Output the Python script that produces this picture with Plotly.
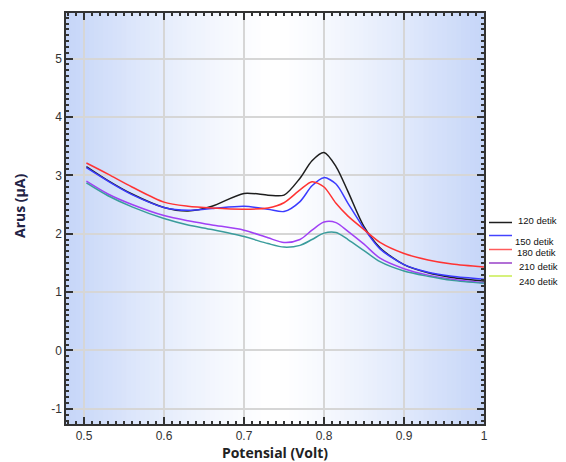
import plotly.graph_objects as go

potential = [0.503, 0.53, 0.56, 0.60, 0.63, 0.66, 0.70, 0.73, 0.75, 0.77,
             0.785, 0.80, 0.815, 0.83, 0.85, 0.87, 0.90, 0.93, 0.96, 1.0]

arus_120 = [3.15, 2.91, 2.68, 2.45, 2.39, 2.47, 2.69, 2.66, 2.66, 2.95,
            3.25, 3.39, 3.15, 2.72, 2.12, 1.76, 1.47, 1.33, 1.25, 1.19]
arus_150 = [3.13, 2.90, 2.67, 2.45, 2.40, 2.43, 2.47, 2.42, 2.38, 2.55,
            2.82, 2.96, 2.85, 2.52, 2.09, 1.74, 1.47, 1.34, 1.27, 1.22]
arus_180 = [3.21, 3.02, 2.80, 2.54, 2.47, 2.44, 2.42, 2.44, 2.53, 2.75,
            2.89, 2.80, 2.52, 2.30, 2.07, 1.85, 1.66, 1.55, 1.48, 1.43]
arus_210 = [2.90, 2.68, 2.50, 2.31, 2.22, 2.15, 2.06, 1.93, 1.85, 1.90,
            2.06, 2.20, 2.19, 2.04, 1.82, 1.58, 1.40, 1.29, 1.22, 1.16]
arus_240 = [2.87, 2.65, 2.46, 2.26, 2.15, 2.07, 1.95, 1.83, 1.77, 1.80,
            1.90, 2.01, 2.02, 1.90, 1.71, 1.52, 1.36, 1.27, 1.20, 1.15]

labels = ["120 detik", "150 detik", "180 detik", "210 detik", "240 detik"]
line_colors = ["#1e1e1e", "#3b3bff", "#ff3333", "#a040f5", "#3a9c9c"]
legend_colors = ["#1e1e1e", "#4444ff", "#ff5c5c", "#9940c8", "#c8ec50"]
x_ticks = [0.5, 0.6, 0.7, 0.8, 0.9, 1.0]
x_ticktext = ["0.5", "0.6", "0.7", "0.8", "0.9", "1"]
y_ticks = [-1, 0, 1, 2, 3, 4, 5]
y_ticktext = ["-1", "0", "1", "2", "3", "4", "5"]
x_title = "<b>Potensial (Volt)</b>"
y_title = "<b>Arus (µA)</b>"

X_MIN, X_MAX = 0.4775, 1.0
Y_MIN, Y_MAX = -1.26, 5.78

# figure geometry (page is offset by the 8px body margin)
W, H = 558, 454
ML, MR, MT, MB = 58, 82, 5, 38
PW, PH = W - ML - MR, H - MT - MB

fig = go.Figure()
for vals, col, lab in zip([arus_120, arus_150, arus_180, arus_210, arus_240], line_colors, labels):
    fig.add_trace(go.Scatter(x=potential, y=vals, mode="lines", name=lab, showlegend=False,
                             line=dict(color=col, width=1.5, shape="spline", smoothing=0.8)))

# gradient background via vertical stripes
n = 90
c = (X_MIN + X_MAX) / 2
h = (X_MAX - X_MIN) / 2
edge = (197, 213, 248)
shapes = []
for i in range(n):
    x0 = X_MIN + (X_MAX - X_MIN) * i / n
    x1 = X_MIN + (X_MAX - X_MIN) * (i + 1) / n
    t = abs((x0 + x1) / 2 - c) / h
    f = min(1.0, t ** 1.3)
    col = tuple(round(255 - (255 - e) * f) for e in edge)
    shapes.append(dict(type="rect", xref="x", yref="paper", x0=x0, x1=min(X_MAX, x1 + 0.001),
                       y0=0, y1=1, fillcolor="rgb(%d,%d,%d)" % col, line=dict(width=0),
                       layer="below"))


# manual legend outside the plot (page pixel positions)
def px_to_paper_x(px):
    return (px - 8 - ML) / PW


def py_to_paper_y(py):
    return (H - (py - 8) - MB) / PH


legend_line_y = [222.5, 235.5, 249.5, 263, 276]
legend_text_y = [220.5, 241.5, 252.5, 266.5, 281.5]
legend_text_x = [517, 514, 515.5, 518, 518]
annotations = []
for lab, col, ly, ty, tx in zip(labels, legend_colors, legend_line_y, legend_text_y, legend_text_x):
    shapes.append(dict(type="line", xref="paper", yref="paper",
                       x0=px_to_paper_x(489), x1=px_to_paper_x(512),
                       y0=py_to_paper_y(ly), y1=py_to_paper_y(ly),
                       line=dict(color=col, width=1.5), layer="above"))
    annotations.append(dict(xref="paper", yref="paper", x=px_to_paper_x(tx), y=py_to_paper_y(ty),
                            text=lab, showarrow=False, xanchor="left", yanchor="middle",
                            borderpad=0,
                            font=dict(family="Liberation Sans, Arial", size=9.5, color="#111111")))

# y-axis title
annotations.append(dict(xref="paper", yref="paper", x=px_to_paper_x(19), y=py_to_paper_y(206),
                        text=y_title, showarrow=False, textangle=-90,
                        xanchor="center", yanchor="middle",
                        font=dict(family="Open Sans, DejaVu Sans", size=14, color="#222244")))

axis_common = dict(
    showline=True, linecolor="#333333", linewidth=1.5, mirror="ticks",
    ticks="inside", ticklen=7, tickwidth=1.5, tickcolor="#333333",
    showgrid=True, gridcolor="#d6d6d6", gridwidth=2, zeroline=False,
    automargin=False,
    tickfont=dict(family="Liberation Sans, Arial", size=12, color="#333333"),
)

fig.update_layout(
    width=W, height=H,
    margin=dict(l=ML, r=MR, t=MT, b=MB, autoexpand=False),
    paper_bgcolor="white", plot_bgcolor="white",
    shapes=shapes, annotations=annotations,
    showlegend=False,
    xaxis=dict(range=[X_MIN, X_MAX], tickvals=x_ticks, ticktext=x_ticktext,
               minor=dict(dtick=0.01, ticks="inside", ticklen=3, tickcolor="#333333", showgrid=False),
               title=dict(text=x_title, standoff=4,
                          font=dict(family="Open Sans, DejaVu Sans", size=14, color="#222222")),
               **axis_common),
    yaxis=dict(range=[Y_MIN, Y_MAX], tickvals=y_ticks, ticktext=y_ticktext,
               minor=dict(dtick=0.1, ticks="inside", ticklen=3, tickcolor="#333333", showgrid=False),
               **axis_common),
)

fig.write_html("out.html")
